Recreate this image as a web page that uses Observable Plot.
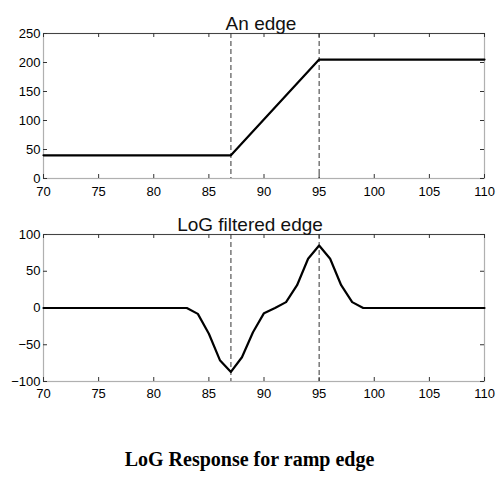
<!DOCTYPE html>
<html>
<head>
<meta charset="utf-8">
<script src="https://cdn.jsdelivr.net/npm/d3@7"></script>
<script src="https://cdn.jsdelivr.net/npm/@observablehq/plot@0.6"></script>
<style>
  body { margin: 0; background: #fff; }
  #wrap { width: 499px; }
  #caption { font-family: "Liberation Serif", "Times New Roman", serif; font-weight: bold; font-size: 20px; text-align: center; line-height: 24px; margin-top: 37px; color: #000; }
  svg { display: block; }
</style>
</head>
<body>
<div id="wrap"></div>
<script>
// Top panel: the ramp edge
const edgeX = [70, 87, 95, 110];
const edgeY = [40, 40, 205, 205];
const edgeYTicks = [0, 50, 100, 150, 200, 250];

// Bottom panel: LoG filtered edge
const logX = [70, 83, 84, 85, 86, 87, 88, 89, 90, 91, 92, 93, 94, 95, 96, 97, 98, 99, 110];
const logY = [0, 0, -8, -35, -71, -87, -67, -33, -7, 0, 8, 31, 67, 85, 67, 31, 8, 0, 0];
const logYTicks = [-100, -50, 0, 50, 100];

// Shared
const xTicks = [70, 75, 80, 85, 90, 95, 100, 105, 110];
const edgeMarks = [87, 95];
const titles = ["An edge", "LoG filtered edge"];
const caption = "LoG Response for ramp edge";

const W = 499, ML = 43, MR = 15;

function panel({xs, ys, yDomain, yTicks, title, height, mt, mb, titleDx, xPad}) {
  const frameW = W - ML - MR;
  const frameH = height - mt - mb;
  const data = xs.map((x, i) => ({x, y: ys[i]}));
  return Plot.plot({
    width: W, height,
    marginLeft: ML, marginRight: MR, marginTop: mt, marginBottom: mb,
    style: {fontFamily: "'Liberation Sans', Arial, sans-serif", fontSize: "13px", color: "#000", background: "#fff"},
    x: {domain: [70, 110]},
    y: {domain: yDomain},
    marks: [
      Plot.frame({stroke: "#b0b0b0", strokeWidth: 1.2}),
      Plot.ruleY([yDomain[1]], {stroke: "#444", strokeWidth: 1}),
      Plot.tickX(xTicks, {x: d => d, insetTop: frameH - 4, stroke: "#333"}),
      Plot.tickX(xTicks, {x: d => d, insetBottom: frameH - 4, stroke: "#333"}),
      Plot.tickY(yTicks, {y: d => d, insetRight: frameW - 4, stroke: "#333"}),
      Plot.tickY(yTicks, {y: d => d, insetLeft: frameW - 4, stroke: "#333"}),
      Plot.axisX({ticks: xTicks, tickSize: 0, tickPadding: xPad, label: null, fontSize: 13}),
      Plot.axisY({ticks: yTicks, tickSize: 0, tickPadding: 3, label: null, fontSize: 13}),
      Plot.ruleX(edgeMarks, {x: d => d, stroke: "#333", strokeWidth: 1, strokeDasharray: "5,3"}),
      Plot.line(data, {x: "x", y: "y", stroke: "#000", strokeWidth: 2.2}),
      Plot.text([title], {frameAnchor: "top", dy: -17, dx: titleDx, text: d => d, fontSize: 19, fill: "#111"})
    ]
  });
}

const wrap = document.getElementById("wrap");
wrap.appendChild(panel({xs: edgeX, ys: edgeY, yDomain: [0, 250], yTicks: edgeYTicks, title: titles[0], height: 200, mt: 33, mb: 22, titleDx: -3, xPad: 8}));
wrap.appendChild(panel({xs: logX, ys: logY, yDomain: [-100, 100], yTicks: logYTicks, title: titles[1], height: 210, mt: 34, mb: 29, titleDx: -14, xPad: 7}));
const cap = document.createElement("div");
cap.id = "caption";
cap.textContent = caption;
wrap.appendChild(cap);
</script>
</body>
</html>
